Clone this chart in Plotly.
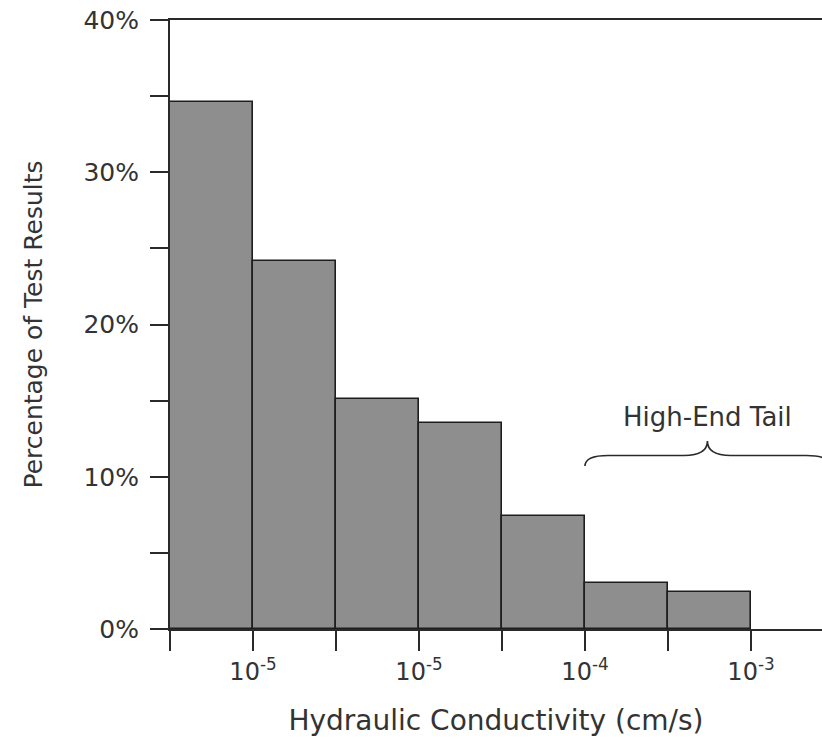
import plotly.graph_objects as go

# ---- data ----
bin_index = [0, 1, 2, 3, 4, 5, 6]              # bins, each one bin wide
percent = [34.6, 24.2, 15.1, 13.5, 7.4, 3.0, 2.4]
x_tick_vals = [0, 1, 2, 3, 4, 5, 6, 7, 8]
x_tick_text = ["", "10<sup>-5</sup>", "", "10<sup>-5</sup>", "", "10<sup>-4</sup>", "", "10<sup>-3</sup>", ""]
y_tick_vals = [0, 5, 10, 15, 20, 25, 30, 35, 40]
y_tick_text = ["0%", "", "10%", "", "20%", "", "30%", "", "40%"]
tail_label = "High-End Tail"
tail_start, tail_end = 5.0, 7.95
brace_base, brace_mid, brace_tip = 10.7, 11.4, 12.35
label_y = 13.9

FONT = "DejaVu Sans, Arial, sans-serif"
TEXT = "#333333"
LINE = "#2a2a2a"

centers = [i + 0.5 for i in bin_index]

fig = go.Figure()
fig.add_trace(go.Bar(
    x=centers, y=percent, width=[1.0] * len(percent),
    marker=dict(color="#8e8e8e", line=dict(color="#1e1e1e", width=1.6)),
    showlegend=False, hoverinfo="skip",
))

# brace over the high-end tail
mid = (tail_start + tail_end) / 2
r = 0.28
path = (f"M {tail_start},{brace_base} Q {tail_start},{brace_mid} {tail_start + r},{brace_mid} "
        f"L {mid - r},{brace_mid} Q {mid},{brace_mid} {mid},{brace_tip} "
        f"Q {mid},{brace_mid} {mid + r},{brace_mid} "
        f"L {tail_end - r},{brace_mid} Q {tail_end},{brace_mid} {tail_end},{brace_base}")
fig.add_shape(type="path", path=path, xref="x", yref="y",
              line=dict(color=LINE, width=1.6))

fig.add_annotation(x=mid, y=label_y, xref="x", yref="y", text=tail_label,
                   showarrow=False, font=dict(family=FONT, size=26, color=TEXT))

fig.update_layout(
    width=822, height=740,
    margin=dict(l=170, r=0, t=20, b=111, autoexpand=False),
    paper_bgcolor="white", plot_bgcolor="white",
    bargap=0,
    font=dict(family=FONT, color=TEXT),
)
fig.update_xaxes(
    range=[0, 652 / 83], tickmode="array", tickvals=x_tick_vals, ticktext=x_tick_text,
    ticks="outside", ticklen=20, tickwidth=2, tickcolor=LINE,
    showline=True, linecolor=LINE, linewidth=2, mirror=True,
    showgrid=False, zeroline=False,
    tickfont=dict(family=FONT, size=24, color=TEXT),
    title=dict(text="Hydraulic Conductivity (cm/s)", font=dict(family=FONT, size=28, color=TEXT), standoff=26),
    automargin=False,
)
fig.update_yaxes(
    range=[0, 40], tickmode="array", tickvals=y_tick_vals, ticktext=y_tick_text,
    ticks="outside", ticklen=18, tickwidth=2, tickcolor=LINE,
    showline=True, linecolor=LINE, linewidth=2,
    showgrid=False, zeroline=False,
    tickfont=dict(family=FONT, size=25, color=TEXT),
    ticklabelstandoff=6,
    title=dict(text="Percentage of Test Results", font=dict(family=FONT, size=25, color=TEXT), standoff=34),
    automargin=False,
)

fig.write_html(
    "out.html",
    config={"displayModeBar": False},
    post_script="document.body.style.margin='0';document.body.style.overflow='hidden';",
)
